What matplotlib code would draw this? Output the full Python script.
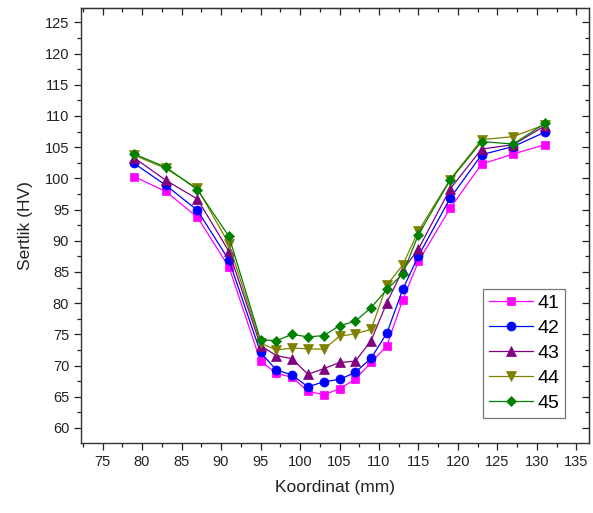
import numpy as np
from matplotlib import pyplot as plt
from matplotlib.ticker import MultipleLocator

plt.rcParams['font.family'] = ['Liberation Sans', 'DejaVu Sans']

# olcum koordinatlari (mm)
koordinat = [79, 83, 87, 91, 95, 97, 99, 101, 103, 105, 107, 109, 111, 113, 115, 119, 123, 127, 131]

# sertlik degerleri (HV)
hv_41 = [100.3, 97.9, 93.8, 85.8, 70.7, 68.8, 68.1, 65.9, 65.3, 66.3, 67.8, 70.5, 73.2, 80.5, 86.7, 95.2, 102.3, 103.9, 105.4]
hv_42 = [102.4, 98.9, 94.9, 86.9, 72.1, 69.3, 68.5, 66.6, 67.4, 67.8, 68.9, 71.2, 75.2, 82.2, 87.6, 96.8, 103.8, 105.1, 107.4]
hv_43 = [103.3, 99.7, 96.7, 88.3, 73.2, 71.6, 71.1, 68.6, 69.5, 70.5, 70.7, 74.0, 80.1, 85.3, 88.7, 98.3, 104.7, 105.4, 108.4]
hv_44 = [103.7, 101.6, 98.4, 89.5, 73.6, 72.5, 72.8, 72.7, 72.6, 74.7, 75.1, 75.8, 82.9, 86.1, 91.6, 99.8, 106.2, 106.7, 108.6]
hv_45 = [103.9, 101.8, 98.2, 90.7, 74.1, 74.0, 75.0, 74.6, 74.8, 76.4, 77.1, 79.3, 82.2, 84.7, 91.0, 99.7, 105.9, 105.5, 108.8]

etiketler = ['41', '42', '43', '44', '45']
seriler = [hv_41, hv_42, hv_43, hv_44, hv_45]
renkler = ['#FF00FF', '#0000FF', '#800080', '#808000', '#008000']
isaretler = ['s', 'o', '^', 'v', 'D']
boyutlar = [6, 6.5, 6.5, 6.5, 5.5]

x_tikler = np.arange(75, 136, 5)
y_tikler = np.arange(60, 126, 5)

fig = plt.figure(figsize=(5.93, 5.13), dpi=100)
ax = fig.add_axes([0.1366, 0.1365, 0.993 - 0.1366, 0.9844 - 0.1365])

for y, lab, c, m, ms in zip(seriler, etiketler, renkler, isaretler, boyutlar):
    ax.plot(koordinat, y, color=c, marker=m, markersize=ms, linewidth=0.9,
            markeredgewidth=0.5, label=lab)

ax.set_xlim(72.27, 136.57)
ax.set_ylim(57.6, 127.3)
ax.set_xticks(x_tikler)
ax.set_yticks(y_tikler)
ax.xaxis.set_minor_locator(MultipleLocator(2.5))
ax.yaxis.set_minor_locator(MultipleLocator(2.5))

ax.tick_params(which='both', direction='out', labelsize=10.5, colors='#222222', width=0.9)
ax.tick_params(which='major', length=5)
ax.tick_params(which='minor', length=3)

# ust ve sag eksen: iceri bakan tikler, etiket yok
ust = ax.secondary_xaxis('top')
ust.set_xticks(x_tikler)
ust.xaxis.set_minor_locator(MultipleLocator(2.5))
ust.tick_params(which='both', direction='in', labeltop=False, colors='#222222', width=0.9)
ust.tick_params(which='major', length=5)
ust.tick_params(which='minor', length=3)

sag = ax.secondary_yaxis('right')
sag.set_yticks(y_tikler)
sag.yaxis.set_minor_locator(MultipleLocator(2.5))
sag.tick_params(which='both', direction='in', labelright=False, colors='#222222', width=0.9)
sag.tick_params(which='major', length=5)
sag.tick_params(which='minor', length=3)

for s in ax.spines.values():
    s.set_linewidth(1.0)
    s.set_color('#333333')

ax.set_xlabel('Koordinat (mm)', fontsize=12.5, color='#222222', labelpad=8)
ax.set_ylabel('Sertlik (HV)', fontsize=12.5, color='#222222', labelpad=8)

leg = ax.legend(loc='lower right', bbox_to_anchor=(0.953, 0.0575), fontsize=14,
                frameon=True, fancybox=False, edgecolor='#555555',
                handlelength=2.3, handletextpad=0.2, borderpad=0.3,
                labelspacing=0.38, borderaxespad=0)
leg.get_frame().set_linewidth(0.9)

fig.savefig('out.png', dpi=100)
